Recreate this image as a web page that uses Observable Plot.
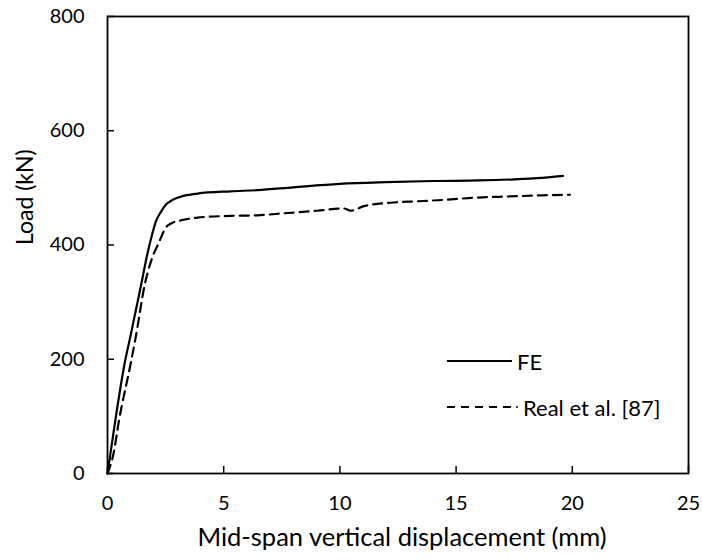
<!DOCTYPE html>
<html>
<head>
<meta charset="utf-8">
<script src="https://cdn.jsdelivr.net/npm/d3@7"></script>
<script src="https://cdn.jsdelivr.net/npm/@observablehq/plot@0.6"></script>
<style>
  html, body { margin: 0; padding: 0; background: #fff; }
  #wrap { position: relative; width: 702px; height: 560px; font-family: Lato, "Open Sans", sans-serif; }
  #legend { position: absolute; left: 447px; top: 338px; font-size: 22px; color: #000; }
  .row { display: flex; align-items: center; height: 46px; }
  .row svg { display: block; }
</style>
</head>
<body>
<div id="wrap"></div>
<script>
// FE curve
const feDisp = [0, 0.17, 0.4, 0.71, 1.0, 1.43, 1.72, 1.93, 2.08, 2.3, 2.5, 2.8, 3.15, 3.87, 5.3, 6.45, 8, 10, 12, 14, 16, 17.5, 18.5, 19.6];
const feLoad = [0, 47, 110, 187, 243, 327, 385, 420, 441, 458, 470, 479, 484.5, 490, 494, 496, 501, 507, 510, 512, 513, 515, 517, 521];
// Real et al. [87] experimental curve
const realDisp = [0, 0.26, 0.5, 0.97, 1.22, 1.6, 1.9, 2.22, 2.5, 2.8, 3.15, 3.87, 5.3, 6.45, 7.59, 9.02, 10.17, 10.46, 11.03, 12.17, 13.32, 14.47, 15.9, 17.33, 18.76, 19.9];
const realLoad = [0, 35, 94, 187, 240, 330, 375, 405, 430, 439, 443, 448, 451, 452, 455.5, 460, 464, 460, 468, 474, 476.5, 479, 483, 485, 487, 488];

const xTicks = [0, 5, 10, 15, 20, 25];
const yTicks = [0, 200, 400, 600, 800];
const seriesNames = ["FE", "Real et al. [87]"];
const xTitle = "Mid-span vertical displacement (mm)";
const yTitle = "Load (kN)";

const fe = feDisp.map((d, i) => ({x: d, y: feLoad[i]}));
const real = realDisp.map((d, i) => ({x: d, y: realLoad[i]}));

const chart = Plot.plot({
  width: 702,
  height: 560,
  marginLeft: 107,
  marginRight: 14,
  marginTop: 16,
  marginBottom: 87,
  style: {fontFamily: "Lato, 'Open Sans', sans-serif", fontSize: "20px", color: "#000", background: "#fff"},
  x: {domain: [0, 25]},
  y: {domain: [0, 800]},
  marks: [
    Plot.axisX({ticks: xTicks, tickSize: 7, dy: -7, text: null, stroke: "#000", strokeWidth: 1.5, label: null}),
    Plot.axisY({ticks: yTicks, tickSize: 7, dx: 7, text: null, stroke: "#000", strokeWidth: 1.5, label: null}),
    Plot.axisX({ticks: xTicks, tickSize: 0, tickPadding: 22, fontSize: 20, label: null}),
    Plot.axisY({ticks: yTicks, tickSize: 0, tickPadding: 23, fontSize: 20, label: null}),
    Plot.text([xTitle], {text: d => d, frameAnchor: "bottom", dy: 72, dx: 4, fontSize: 25.5, fill: "#000"}),
    Plot.text([yTitle], {text: d => d, frameAnchor: "left", rotate: -90, dx: -82, fontSize: 23, fill: "#000"}),
    Plot.frame({stroke: "#000", strokeWidth: 1.8}),
    Plot.line(real, {x: "x", y: "y", stroke: "#000", strokeWidth: 2.2, strokeDasharray: "9,6", curve: "monotone-x"}),
    Plot.line(fe, {x: "x", y: "y", stroke: "#000", strokeWidth: 2.2, curve: "monotone-x"})
  ]
});

const wrap = document.getElementById("wrap");
wrap.appendChild(chart);

const legend = document.createElement("div");
legend.id = "legend";
legend.innerHTML = `
  <div class="row"><svg width="70" height="10"><line x1="0" x2="65" y1="5" y2="5" stroke="#000" stroke-width="2.2"/></svg><span>${seriesNames[0]}</span></div>
  <div class="row"><svg width="76" height="10"><line x1="0" x2="65" y1="5" y2="5" stroke="#000" stroke-width="2.2" stroke-dasharray="8,6"/><circle cx="70" cy="5" r="1" fill="#000"/></svg><span>${seriesNames[1]}</span></div>`;
wrap.appendChild(legend);
</script>
</body>
</html>
